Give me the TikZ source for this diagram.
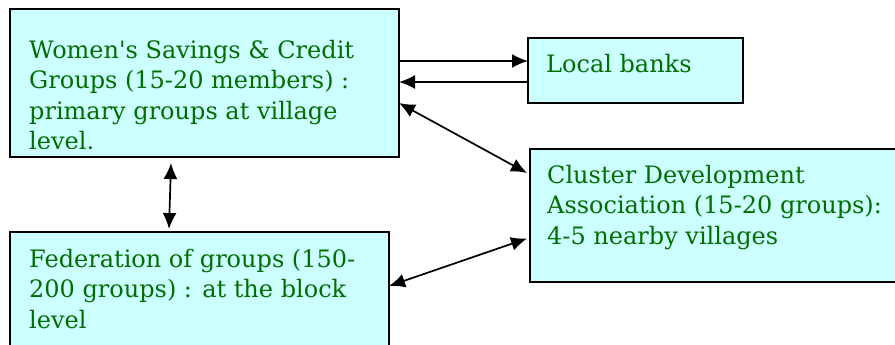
\documentclass[tikz,border=0pt]{standalone}
\usepackage{fontspec}
\setmainfont{DejaVu Serif}
\usetikzlibrary{arrows.meta}

\definecolor{boxfill}{HTML}{CCFFFF}
\definecolor{boxtext}{HTML}{006E00}

\tikzset{
	orgbox/.style={draw=black, line width=1.8pt, fill=boxfill, anchor=north west, inner sep=0pt, outer sep=0pt},
	orgtext/.style={anchor=north west, text=boxtext, align=left, inner sep=0pt,
		font=\fontsize{24}{30.5}\selectfont},
	link/.style={line width=1.7pt, -{Latex[length=16pt,width=14pt]}},
	dlink/.style={line width=1.7pt, {Latex[length=16pt,width=14pt]}-{Latex[length=16pt,width=14pt]}}
}

\begin{document}
\begin{tikzpicture}[x=1pt,y=1pt]
	\clip (0,0) rectangle (895,-345);
	\fill[white] (0,0) rectangle (895,-345);

	% boxes
	\node[orgbox, minimum width=389pt, minimum height=148pt] (wsg) at (10,-9) {};
	\node[orgbox, minimum width=215pt, minimum height=65pt] (banks) at (528,-38) {};
	\node[orgbox, minimum width=380pt, minimum height=133pt] (cda) at (530,-149) {};
	\node[orgbox, minimum width=379pt, minimum height=130pt] (fed) at (10,-232) {};

	% texts (the last line of the first box is cut by its margin)
	\begin{scope}
		\clip (wsg.north west) rectangle ([yshift=9pt]wsg.south east);
		\node[orgtext] (wsgtxt) at (29,-40) {Women\textquotesingle s Savings \& Credit\\Groups (15-20 members) :\\primary groups at village\\level.};
	\end{scope}
	\node[orgtext] (bankstxt) at (546,-54) {Local banks};
	\node[orgtext] (cdatxt) at (547,-165) {Cluster Development\\Association (15-20 groups):\\4-5 nearby villages};
	\node[orgtext] (fedtxt) at (29,-249) {Federation of groups (150-\\200 groups) : at the block\\level};

	% connectors
	\draw[link] ([yshift=-52pt]wsg.north east) -- ([yshift=-52pt]wsg.north east -| banks.west);
	\draw[link] ([yshift=-11.5pt]banks.west) -- ([yshift=-11.5pt]banks.west -| wsg.east);
	\draw[dlink] ([yshift=-94pt]wsg.north east) -- ([xshift=-3pt,yshift=-24pt]cda.north west);
	\draw[dlink] ([xshift=-33.5pt,yshift=-6pt]wsg.south) -- ([xshift=-30.5pt,yshift=3pt]fed.north);
	\draw[dlink] ([yshift=-54pt]fed.north east) -- ([xshift=-3pt,yshift=-23pt]cda.west);
\end{tikzpicture}
\end{document}
